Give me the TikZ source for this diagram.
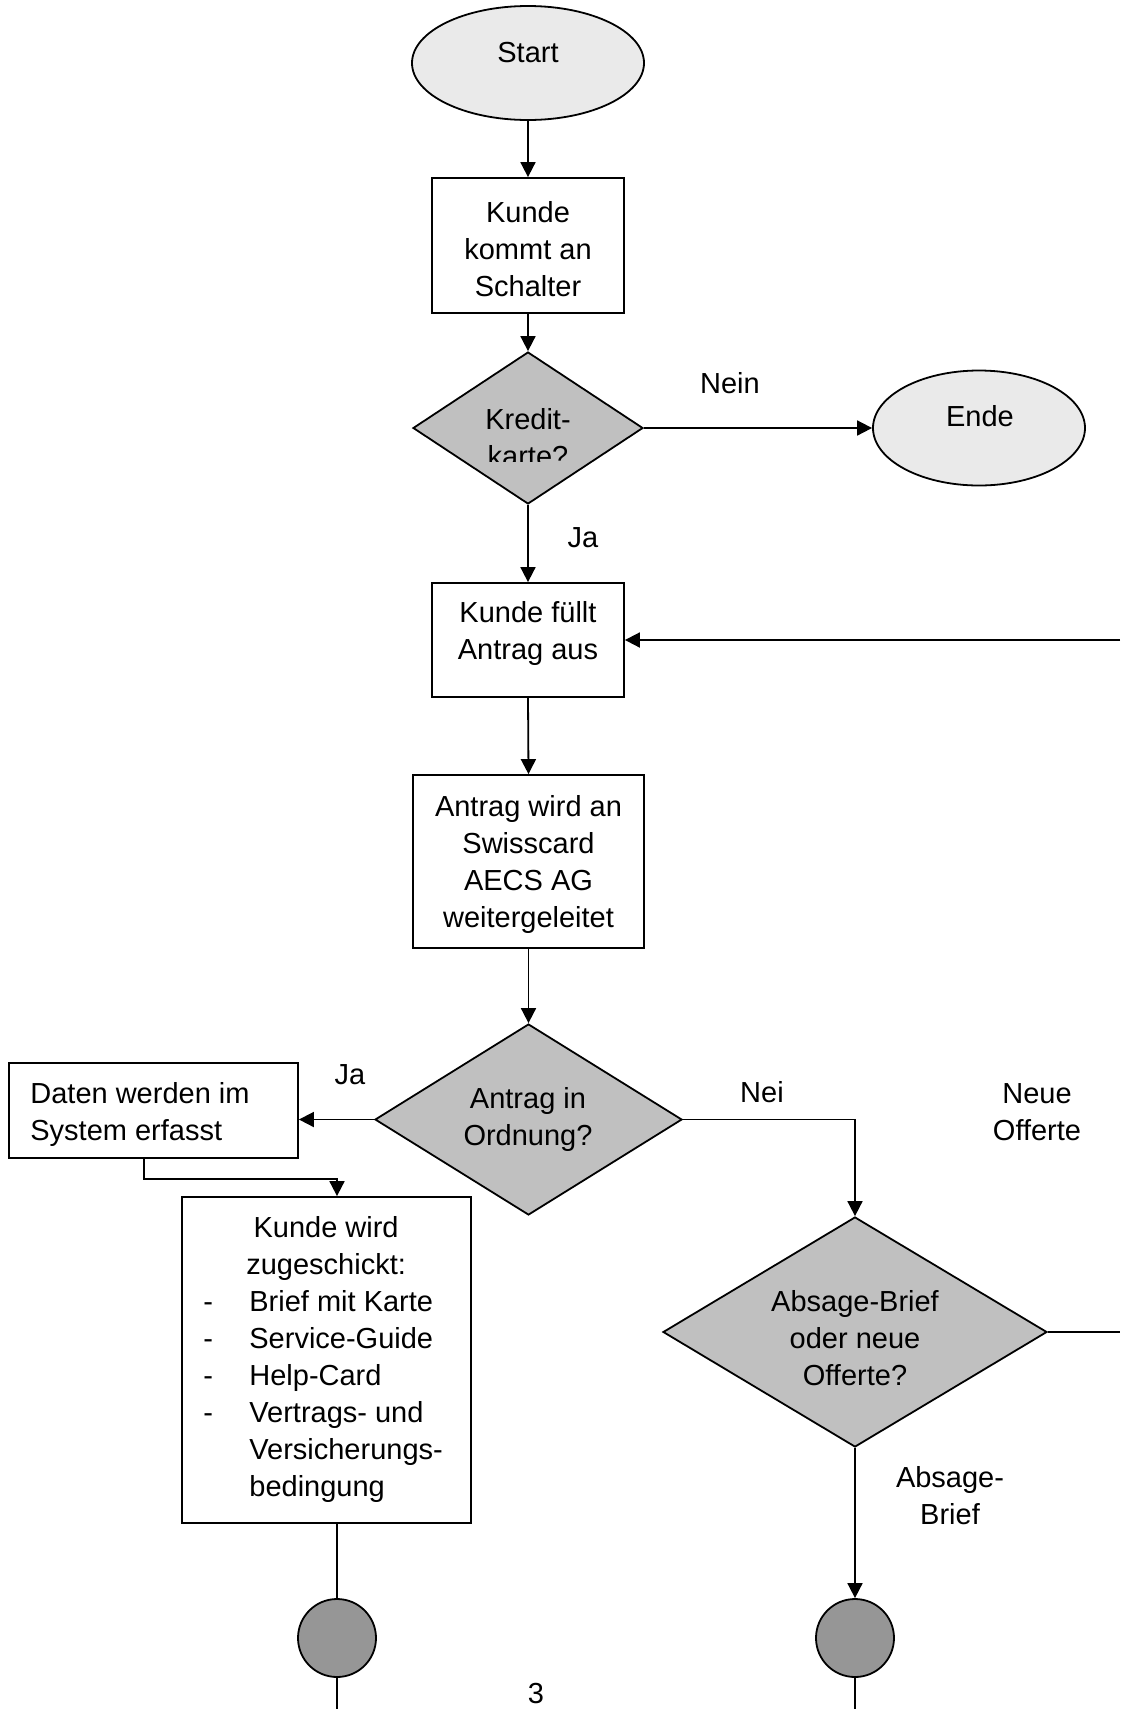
\documentclass[tikz,border=0pt]{standalone}
\usepackage{fontspec}
\setmainfont{Liberation Sans}
\usetikzlibrary{shapes.geometric,arrows.meta}
\definecolor{ovalgray}{HTML}{EAEAEA}
\definecolor{diagray}{HTML}{C0C0C0}
\definecolor{circgray}{HTML}{969696}
\begin{document}
\begin{tikzpicture}[x=0.5pt,y=-0.5pt,
  box/.style={draw, rectangle, line width=0.9pt, inner sep=0pt, fill=white},
  dia/.style={draw, diamond, line width=0.9pt, fill=diagray, inner sep=0pt},
  oval/.style={draw, ellipse, line width=0.9pt, fill=ovalgray, inner sep=0pt},
  dot/.style={draw, circle, line width=0.9pt, fill=circgray, inner sep=0pt, minimum size=39pt},
  conn/.style={draw, line width=0.9pt},
  arr/.style={conn, -{Triangle[length=7.5pt,width=7.5pt]}},
  txt/.style={font=\fontsize{14.5}{18.5}\selectfont, align=center, inner sep=0pt}]
\useasboundingbox (0,0) rectangle (1120,1709);

% shapes
\node[oval, minimum width=116pt, minimum height=57pt] (start) at (528,63) {};
\node[txt] (tstart) at (528,53) {Start};
\node[box, minimum width=96pt, minimum height=67.5pt] (kommt) at (528,245.5) {};
\node[txt] (tkommt) at (528,249.5) {Kunde\\kommt an\\Schalter};
\node[dia, minimum width=115pt, minimum height=76pt] (kredit) at (528,428) {};
\begin{scope}
  \clip (400,360) rectangle (660,461.5);
  \node[txt] (tkredit) at (528,438) {Kredit-\\karte?};
\end{scope}
\node[oval, minimum width=106pt, minimum height=57.5pt] (ende) at (979,428) {};
\node[txt] (tende) at (980,416.5) {Ende};
\node[box, minimum width=96pt, minimum height=57pt] (fuellt) at (528,640) {};
\node[txt] (tfuellt) at (528,633) {Kunde füllt\\Antrag aus};
\node[box, minimum width=115.5pt, minimum height=86.5pt] (antrag) at (528.5,861.5) {};
\node[txt] (tantrag) at (528.5,864) {Antrag wird an\\Swisscard\\AECS AG\\weitergeleitet};
\node[dia, minimum width=153.5pt, minimum height=95.5pt] (ordnung) at (528.5,1119.5) {};
\node[txt] (tordnung) at (528,1119.5) {Antrag in\\Ordnung?};
\node[box, minimum width=144.5pt, minimum height=47.5pt] (daten) at (153.5,1110.5) {};
\node[txt, anchor=west, align=left] (tdaten) at (30,1114) {Daten werden im\\System erfasst};
\node[box, minimum width=144.5pt, minimum height=163pt] (wird) at (326.5,1360) {};
\node[txt, anchor=west] (twird) at (203,1360) {%
  \begin{tabular}{@{}l@{}}
  \multicolumn{1}{@{}c@{}}{\hspace{3pt}Kunde wird}\\
  \multicolumn{1}{@{}c@{}}{\hspace{3pt}zugeschickt:}\\
  \makebox[23pt][l]{-}Brief mit Karte\\
  \makebox[23pt][l]{-}Service-Guide\\
  \makebox[23pt][l]{-}Help-Card\\
  \makebox[23pt][l]{-}Vertrags- und\\
  \makebox[23pt][l]{}Versicherungs-\\
  \makebox[23pt][l]{}bedingung
  \end{tabular}};
\node[dia, minimum width=192pt, minimum height=115pt] (absage) at (855,1332) {};
\node[txt] (tabsage) at (855,1338.5) {Absage-Brief\\oder neue\\Offerte?};
\node[dot] (circL) at (337,1638) {};
\node[dot] (circR) at (855,1638) {};

% labels
\node[txt] (lnein) at (730,383) {Nein};
\node[txt] (lja1) at (583,538) {Ja};
\node[txt] (lja2) at (350,1075) {Ja};
\node[txt] (lnei) at (762,1092) {Nei};
\node[txt] (lneue) at (1037,1112) {Neue\\Offerte};
\node[txt] (labs) at (950,1496) {Absage-\\Brief};
\node[txt] (lpage) at (536,1693.5) {3};

% connectors
\coordinate (back1) at (1120,640);
\coordinate (back2) at (1120,1332);
\coordinate (endL) at (337,1709);
\coordinate (endR) at (855,1709);
\draw[arr] (start.south) -- (kommt.north);
\draw[arr] (kommt.south) -- (kredit.north);
\draw[arr] (kredit.east) -- (ende.west);
\draw[arr] (kredit.south) -- (fuellt.north);
\draw[arr] (back1) -- (fuellt.east);
\draw[arr] (fuellt.south) -- (antrag.north);
\draw[arr] (antrag.south) -- (ordnung.north);
\draw[arr] (ordnung.west) -- (ordnung.west -| daten.east);
\draw[arr] ([xshift=-4.75pt]daten.south) -- ++(0,20) -| ([xshift=5.25pt]wird.north);
\draw[arr] (ordnung.east) -| (absage.north);
\draw[conn] (absage.east) -- (back2);
\draw[arr] (absage.south) -- (circR.north);
\draw[conn] ([xshift=5.25pt]wird.south) -- (circL.north);
\draw[conn] (circL.south) -- (endL);
\draw[conn] (circR.south) -- (endR);
\end{tikzpicture}
\end{document}
